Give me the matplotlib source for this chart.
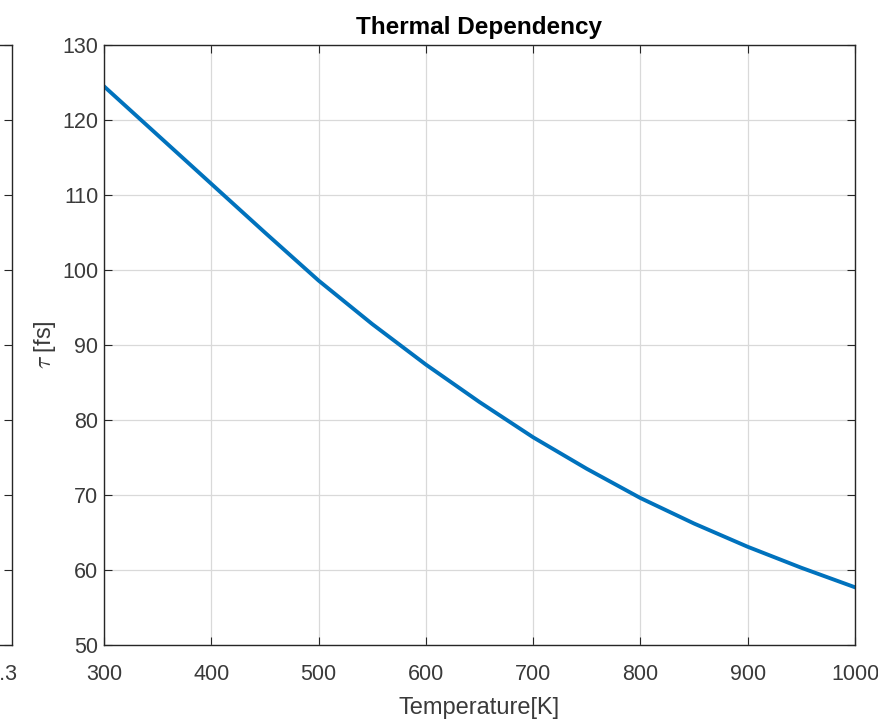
import numpy as np
import matplotlib.pyplot as plt

# values
temperature = [300, 350, 400, 450, 500, 550, 600, 650, 700, 750, 800, 850, 900, 950, 1000]
tau_fs = [124.5, 118.0, 111.5, 105.0, 98.6, 92.8, 87.4, 82.4, 77.7, 73.5, 69.6, 66.2, 63.1, 60.3, 57.7]

x_ticks = [300, 400, 500, 600, 700, 800, 900, 1000]
y_ticks = [50, 60, 70, 80, 90, 100, 110, 120, 130]

plt.rcParams['font.family'] = ['Liberation Sans', 'DejaVu Sans']
plt.rcParams['mathtext.fontset'] = 'cm'
dark = '#262626'
label_grey = '#3a3a3a'

fig = plt.figure(figsize=(8.79, 7.22), dpi=100)

# neighbouring subplot, mostly cut off on the left
ax0 = fig.add_axes([-0.6, 0.1066, 0.6137, 0.8310])
ax0.set_xlim(0, 0.3057)
ax0.set_ylim(0, 8)
ax0.set_xticks([0.3])
ax0.set_xticklabels(['0.3'])
ax0.set_yticks(range(9))
ax0.set_yticklabels([])
ax0.tick_params(direction='in', length=6, width=0.8, colors=dark, labelcolor=label_grey,
                labelsize=15.5, right=True, top=True, pad=14)
ax0.tick_params(axis='x', length=0, pad=14)
for s in ax0.spines.values():
    s.set_color(dark)
    s.set_linewidth(1.0)

ax = fig.add_axes([0.1183, 0.1066, 0.8544, 0.8310])
ax.plot(temperature, tau_fs, color='#0072BD', linewidth=2.8)
ax.set_xlim(300, 1000)
ax.set_ylim(50, 130)
ax.set_xticks(x_ticks)
ax.set_yticks(y_ticks)
ax.grid(True, color='#d9d9d9', linewidth=0.9)
ax.set_axisbelow(True)
ax.tick_params(direction='in', length=6, width=0.8, colors=dark, labelcolor=label_grey,
               labelsize=15.5, right=True, top=True, pad=14)
ax.tick_params(axis='y', pad=4)
for s in ax.spines.values():
    s.set_color(dark)
    s.set_linewidth(1.0)

ax.set_xlabel('Temperature[K]', fontsize=17, color=label_grey, labelpad=8)
ax.set_ylabel(r'$\tau$ [fs]', fontsize=17, color=label_grey, labelpad=3)
ax.set_title('Thermal Dependency', fontsize=17.5, fontweight='bold', color='black', pad=8)

fig.savefig('out.png', dpi=100)
